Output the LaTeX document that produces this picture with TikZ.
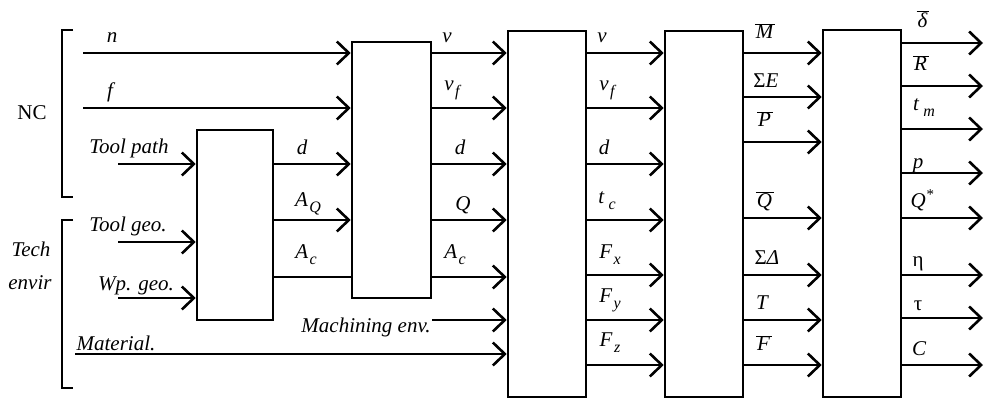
\documentclass[tikz,border=0pt]{standalone}
\usepackage{fontspec}
\setmainfont{Liberation Serif}
\usetikzlibrary{arrows.meta}
\newcommand\subs[2]{\textit{#1}\kern1.5pt\raisebox{-6pt}{\fontsize{16}{16}\selectfont\textit{#2}}}
\newcommand\bartxt[1]{$\overline{\mbox{\itshape\kern1pt #1\kern2pt}}$}
\begin{document}
\begin{tikzpicture}[x=1pt,y=-1pt,
  line width=2.6pt,
  box/.style={draw,line width=2.6pt,inner sep=0,fill=white},
  arr/.style={-{Straight Barb[length=12pt,width=23pt,line join=miter]}},
  lab/.style={inner sep=0,font=\fontsize{21}{23}\selectfont\itshape},
  brk/.style={line width=2.4pt}]
\useasboundingbox (0,0) rectangle (985,399);
% boxes
\node[box,minimum width=76pt,minimum height=190pt] (b1) at (235,225) {};
\node[box,minimum width=79pt,minimum height=256pt] (b2) at (391.5,170) {};
\node[box,minimum width=78pt,minimum height=366pt] (b3) at (547,214) {};
\node[box,minimum width=78pt,minimum height=366pt] (b4) at (704,214) {};
\node[box,minimum width=78pt,minimum height=367pt] (b5) at (862,213.5) {};
% brackets
\coordinate (nc1) at (73,30); \coordinate (nc2) at (62,30);
\coordinate (nc3) at (62,197); \coordinate (nc4) at (73,197);
\draw[brk] (nc1) -- (nc2) -- (nc3) -- (nc4);
\coordinate (te1) at (73,220); \coordinate (te2) at (62,220);
\coordinate (te3) at (62,388); \coordinate (te4) at (73,388);
\draw[brk] (te1) -- (te2) -- (te3) -- (te4);
\node[lab,font=\fontsize{21}{23}\selectfont] (nc) at (32,113) {NC};
\node[lab] (tech) at (31,249) {Tech};
\node[lab] (envir) at (30,283) {envir};
% inputs
\coordinate (sn) at (83,53);
\coordinate (sf) at (83,108);
\coordinate (stp) at (118,164);
\coordinate (stg) at (118,242);
\coordinate (swg) at (118,298);
\coordinate (smat) at (75,354);
\coordinate (smach) at (432,320);
\draw[arr] (sn) -- (b2.west |- sn);
\draw[arr] (sf) -- (b2.west |- sf);
\draw[arr] (stp) -- (b1.west |- stp);
\draw[arr] (stg) -- (b1.west |- stg);
\draw[arr] (swg) -- (b1.west |- swg);
\draw[arr] (smat) -- (b3.west |- smat);
\draw[arr] (smach) -- (b3.west |- smach);
\node[lab] (ln) at (112,38) {n};
\node[lab] (lf) at (110,92) {f};
\node[lab] (ltp) at (129,148) {Tool path};
\node[lab] (ltg) at (128,226) {Tool geo.};
\node[lab] (lwg) at (136,286) {Wp. geo.};
\node[lab] (lmat) at (116,343) {Material.};
\node[lab] (lmach) at (366,327) {Machining env.};
% box1 -> box2
\coordinate (r1c) at (0,164); \coordinate (r1d) at (0,220); \coordinate (r1e) at (0,277);
\draw[arr] (b1.east |- r1c) -- (b2.west |- r1c);
\draw[arr] (b1.east |- r1d) -- (b2.west |- r1d);
\draw (b1.east |- r1e) -- (b2.west |- r1e);
\node[lab] (l1a) at (302,147) {d};
\node[lab] (l1b) at (308,204) {\subs{A}{Q}};
\node[lab] (l1c) at (306,255) {\subs{A}{c}};
% box2 -> box3
\foreach \y in {53,108,164,220,277}{
  \coordinate (t) at (0,\y);
  \draw[arr] (b2.east |- t) -- (b3.west |- t);
}
\node[lab] (l2a) at (447,38) {v};
\node[lab] (l2b) at (452,90) {\subs{v}{f}};
\node[lab] (l2c) at (460,147) {d};
\node[lab] (l2d) at (463,205) {Q};
\node[lab] (l2e) at (455,255) {\subs{A}{c}};
% box3 -> box4
\foreach \y in {53,108,164,220,275,320,365}{
  \coordinate (t) at (0,\y);
  \draw[arr] (b3.east |- t) -- (b4.west |- t);
}
\node[lab] (l3a) at (602,38) {v};
\node[lab] (l3b) at (607,90) {\subs{v}{f}};
\node[lab] (l3c) at (604,147) {d};
\node[lab] (l3d) at (607,201) {\subs{t\kern3pt}{c}};
\node[lab] (l3e) at (610,255) {\subs{F}{x}};
\node[lab] (l3f) at (610,300) {\subs{F}{y}};
\node[lab] (l3g) at (610,343) {\subs{F}{z}};
% box4 -> box5
\foreach \y in {53,97,142,218,275,320,365}{
  \coordinate (t) at (0,\y);
  \draw[arr] (b4.east |- t) -- (b5.west |- t);
}
\node[lab] (l4a) at (765,31) {\bartxt{M}};
\node[lab] (l4b) at (766,81) {\upshape Σ\itshape E};
\node[lab] (l4c) at (765,119) {\bartxt{P}};
\node[lab] (l4d) at (765,201) {\bartxt{Q}};
\node[lab] (l4e) at (767,258) {\upshape Σ\itshape Δ};
\node[lab] (l4f) at (762,303) {T};
\node[lab] (l4g) at (764,343) {\bartxt{F}};
% box5 outputs
\foreach \y in {43,86,129,173,218,275,318,365}{
  \coordinate (t) at (983,\y);
  \draw[arr] (b5.east |- t) -- (t);
}
\node[lab] (l5a) at (923,19) {\bartxt{δ}};
\node[lab] (l5b) at (921,63) {\bartxt{R}};
\node[lab] (l5c) at (924,108) {\subs{t\kern3pt}{m}};
\node[lab] (l5d) at (918,166) {p};
\node[lab] (l5e) at (922,200) {Q\raisebox{8pt}{\fontsize{15}{15}\selectfont *}};
\node[lab] (l5f) at (918,264) {\upshape η};
\node[lab] (l5g) at (918,306) {\upshape τ};
\node[lab] (l5h) at (919,349) {C};
\end{tikzpicture}
\end{document}
